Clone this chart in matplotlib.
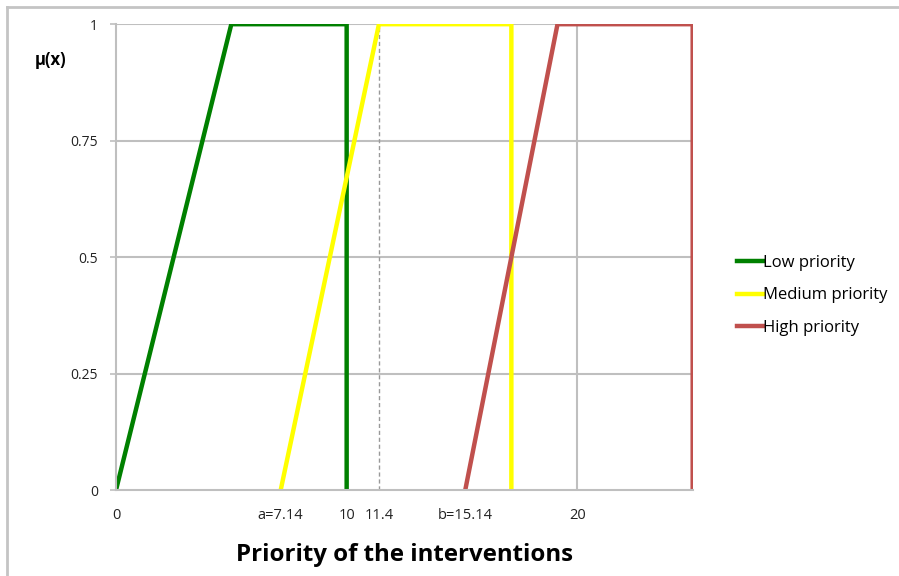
"""
Fuzzy membership functions for intervention priority.
"""
import matplotlib
matplotlib.use("Agg")
from matplotlib import pyplot as plt, lines

# membership function break points (x, mu)
low_x = [0, 5, 10, 10]
low_mu = [0, 1, 1, 0]
medium_x = [7.14, 11.4, 17.14, 17.14]
medium_mu = [0, 1, 1, 0]
high_x = [15.14, 19.14, 25, 25]
high_mu = [0, 1, 1, 0]

marker_x = 11.4
tick_pos = [0, 7.14, 10, 11.4, 15.14, 20]
tick_labels = ["0", "a=7.14", "10", "11.4", "b=15.14", "20"]
y_ticks = [0, 0.25, 0.5, 0.75, 1]
y_labels = ["0", "0.25", "0.5", "0.75", "1"]

plt.rcParams['font.family'] = ['Open Sans', 'DejaVu Sans']
grid_color = '#BFBFBF'

fig = plt.figure(figsize=(8.99, 5.76), dpi=100)
ax = fig.add_axes([0.129, 0.149, 0.7705 - 0.129, 0.958 - 0.149])

ax.plot(low_x, low_mu, color='#008000', lw=3.2, label='Low priority', solid_joinstyle='miter')
ax.plot(medium_x, medium_mu, color='#FFFF00', lw=3.2, label='Medium priority', solid_joinstyle='miter')
ax.plot(high_x, high_mu, color='#C0504D', lw=3.2, label='High priority', solid_joinstyle='miter')
ax.axvline(marker_x, color='#999999', lw=1, linestyle=(0, (3, 2)), zorder=1)

ax.set_xlim(0, 25)
ax.set_ylim(0, 1)

# gridlines (drawn under the data)
for y in y_ticks[1:]:
    ax.axhline(y, color=grid_color, lw=1.5, zorder=0)
for x in [10, 20]:
    ax.axvline(x, color=grid_color, lw=1.5, zorder=0)

ax.set_yticks(y_ticks)
ax.set_yticklabels(y_labels, fontsize=10, color='#222222')
ax.tick_params(axis='y', length=4, width=1.2, color=grid_color, pad=9)

ax.set_xticks(tick_pos)
ax.set_xticklabels(tick_labels, fontsize=10.5, color='#222222')
ax.tick_params(axis='x', which='major', length=0, pad=13)
ax.set_xticks([0, 10, 20], minor=True)
ax.tick_params(axis='x', which='minor', length=4, width=1.2, color=grid_color)

for side in ['top', 'right']:
    ax.spines[side].set_visible(False)
for side in ['left', 'bottom']:
    ax.spines[side].set_color(grid_color)
    ax.spines[side].set_linewidth(1.5)

ax.set_xlabel('Priority of the interventions', fontsize=17.3, fontweight='bold', labelpad=14)
fig.text(0.056, 0.895, 'μ(x)', fontsize=12, fontweight='bold', ha='center', va='center')

ax.legend(loc='center left', bbox_to_anchor=(1.05, 0.418), frameon=False, fontsize=12,
          handlelength=1.6, handletextpad=0.0, labelspacing=1.0)

# chart area frame
fig.add_artist(lines.Line2D([7 / 899, 1], [1 - 7 / 576, 1 - 7 / 576], color='#C4C4C4', lw=2))
fig.add_artist(lines.Line2D([7 / 899, 7 / 899], [0, 1 - 7 / 576], color='#C4C4C4', lw=2))

fig.savefig('out.png', dpi=100)
